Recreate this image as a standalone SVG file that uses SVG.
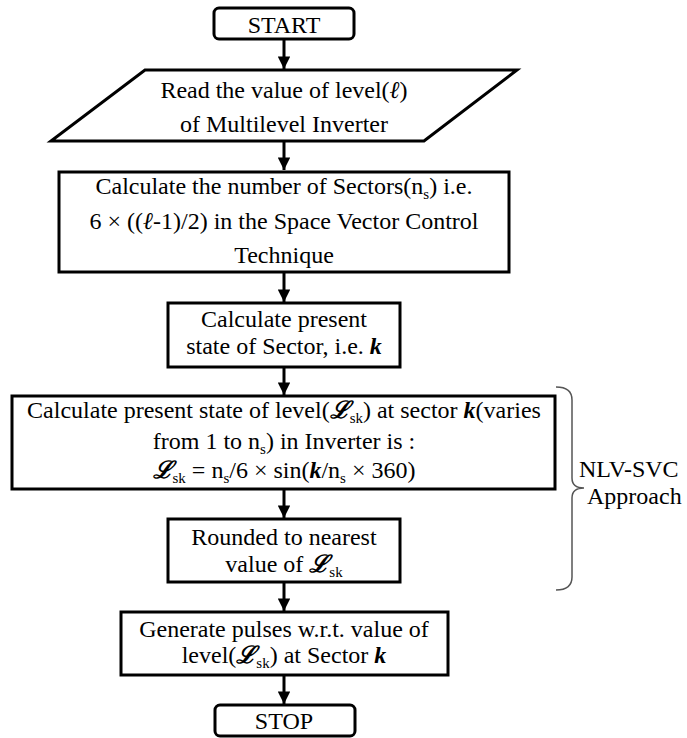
<svg xmlns="http://www.w3.org/2000/svg" width="687" height="738" viewBox="0 0 687 738">
<style>
.box{fill:#fff;stroke:#000;stroke-width:3}
.t{font-family:"Liberation Serif","Times New Roman",serif;font-size:24px;fill:#000;text-anchor:middle}
.tl{font-family:"Liberation Serif","Times New Roman",serif;font-size:24px;fill:#000}
.c{stroke:#000;stroke-width:3;fill:none}
.it{font-style:italic}
.sym{font-style:italic;font-weight:bold}
.sub{font-size:15px}
.brace{fill:none;stroke:#555;stroke-width:1.5}
</style>
<defs>
<marker id="ah" viewBox="0 0 10 10" refX="10" refY="5" markerWidth="4.2" markerHeight="4.2" markerUnits="strokeWidth" orient="auto">
<path d="M0,0 L10,5 L0,10 Z" fill="#000"/>
</marker>
</defs>
<rect width="687" height="738" fill="#fff"/>
<g id="connectors">
<line class="c" x1="284" y1="39" x2="284" y2="69" marker-end="url(#ah)"/>
<line class="c" x1="284" y1="141" x2="284" y2="170" marker-end="url(#ah)"/>
<line class="c" x1="284" y1="272" x2="284" y2="302" marker-end="url(#ah)"/>
<line class="c" x1="284" y1="367" x2="284" y2="395" marker-end="url(#ah)"/>
<line class="c" x1="284" y1="489" x2="284" y2="518" marker-end="url(#ah)"/>
<line class="c" x1="284" y1="582" x2="284" y2="611" marker-end="url(#ah)"/>
<line class="c" x1="284" y1="675" x2="284" y2="704" marker-end="url(#ah)"/>
</g>
<g id="start">
<rect class="box" x="214" y="8" width="140" height="31" rx="5"/>
<text class="t" x="284" y="33">START</text>
</g>
<g id="read">
<polygon class="box" points="145,70 517,70 424,141 51,141"/>
<text class="t" x="284" y="98">Read the value of level(<tspan class="it">ℓ</tspan>)</text>
<text class="t" x="284" y="132">of Multilevel Inverter</text>
</g>
<g id="sectors">
<rect class="box" x="59" y="172" width="450" height="100"/>
<text class="t" x="284" y="194">Calculate the number of Sectors(n<tspan class="sub" dy="5">s</tspan><tspan dy="-5">) i.e.</tspan></text>
<text class="t" x="284" y="229">6 × ((<tspan class="it">ℓ</tspan>-1)/2) in the Space Vector Control</text>
<text class="t" x="284" y="263">Technique</text>
</g>
<g id="present-sector">
<rect class="box" x="168" y="303" width="232" height="64"/>
<text class="t" x="284" y="327">Calculate present</text>
<text class="t" x="284" y="354">state of Sector, i.e. <tspan class="sym">k</tspan></text>
</g>
<g id="present-level">
<rect class="box" x="12" y="396" width="543" height="93"/>
<text class="t" x="284" y="418">Calculate present state of level(<tspan class="sym">ℒ</tspan><tspan class="sub" dy="5">sk</tspan><tspan dy="-5">) at sector </tspan><tspan class="sym">k</tspan>(varies</text>
<text class="t" x="284" y="449">from 1 to n<tspan class="sub" dy="5">s</tspan><tspan dy="-5">) in Inverter is :</tspan></text>
<text class="t" x="284" y="478"><tspan class="sym">ℒ</tspan><tspan class="sub" dy="5">sk</tspan><tspan dy="-5"> = n</tspan><tspan class="sub" dy="5">s</tspan><tspan dy="-5">/6 × sin(</tspan><tspan class="sym">k</tspan>/n<tspan class="sub" dy="5">s</tspan><tspan dy="-5"> × 360)</tspan></text>
</g>
<g id="rounded">
<rect class="box" x="168" y="519" width="232" height="63"/>
<text class="t" x="284" y="545">Rounded to nearest</text>
<text class="t" x="284" y="572">value of <tspan class="sym">ℒ</tspan><tspan class="sub" dy="5">sk</tspan></text>
</g>
<g id="generate">
<rect class="box" x="121" y="612" width="327" height="63"/>
<text class="t" x="284" y="637">Generate pulses w.r.t. value of</text>
<text class="t" x="284" y="663">level(<tspan class="sym">ℒ</tspan><tspan class="sub" dy="5">sk</tspan><tspan dy="-5">) at Sector </tspan><tspan class="sym">k</tspan></text>
</g>
<g id="stop">
<rect class="box" x="215" y="705" width="140" height="31" rx="5"/>
<text class="t" x="284" y="729">STOP</text>
</g>
<g id="nlv-svc">
<path class="brace" d="M556,387 Q572,387 572,400 L572,478 Q572,488 584,488 Q572,488 572,498 L572,577 Q572,590 556,590"/>
<text class="tl" x="579" y="477">NLV-SVC</text>
<text class="tl" x="587" y="504">Approach</text>
</g>
</svg>
